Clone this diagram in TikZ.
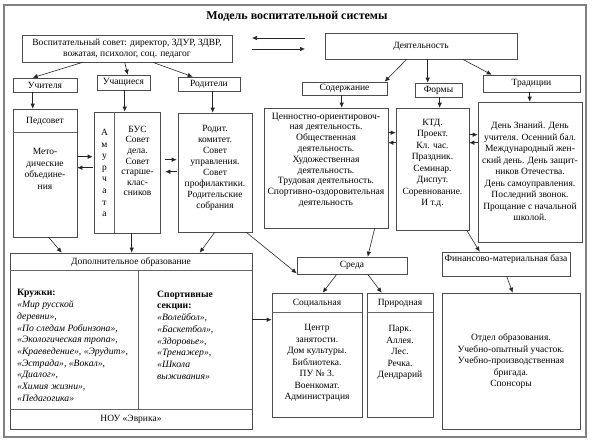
\documentclass[tikz,border=0pt]{standalone}
\usepackage{fontspec}
\setmainfont{Liberation Serif}
\usetikzlibrary{arrows.meta,calc}
\begin{document}
\begin{tikzpicture}[x=1pt,y=-1pt,
  box/.style={draw=black!70, line width=0.6pt, inner sep=0pt},
  divider/.style={draw=black!60, line width=0.6pt},
  frame/.style={draw=black!50, line width=1.3pt},
  arr/.style={draw=black!85, line width=0.6pt, -{Latex[length=5pt,width=4.5pt]}},
  tf/.style={font=\fontsize{9.5}{11.5}\selectfont, align=center, inner sep=0pt},
  tl/.style={font=\fontsize{9.7}{11.7}\selectfont, align=left, inner sep=0pt},
  title/.style={font=\fontsize{12}{14}\selectfont\bfseries, inner sep=0pt}
]
\useasboundingbox (0,0) rectangle (595,442);
\draw[frame] (4,5) rectangle (586,437);

\node[title] (ttl) at (297,16) {Модель воспитательной системы};

% exchange arrows
\coordinate (a1) at (305,38);
\coordinate (a2) at (252,38);
\coordinate (b1) at (252,49);
\coordinate (b2) at (305,49);
\draw[arr] (a1) -- (a2);
\draw[arr] (b1) -- (b2);

% top boxes
\node[box,tf,minimum width=210pt,minimum height=27pt] (vs) at (127,48.5) {Воспитательный совет: директор, ЗДУР, ЗДВР,\\вожатая, психолог, соц. педагог};
\node[box,tf,minimum width=192pt,minimum height=26pt] (deyat) at (421,46) {Деятельность};

\node[box,tf,minimum width=64pt,minimum height=14pt] (uch) at (45,85) {Учителя};
\node[box,tf,minimum width=53pt,minimum height=15pt] (uchsh) at (123.5,82.5) {Учащиеся};
\node[box,tf,minimum width=62pt,minimum height=14pt] (rod) at (209,84) {Родители};
\node[box,tf,minimum width=85pt,minimum height=13pt] (sod) at (344.5,88.5) {Содержание};
\node[box,tf,minimum width=47pt,minimum height=14pt] (form) at (438.5,90) {Формы};
\node[box,tf,minimum width=97pt,minimum height=17pt] (trad) at (531.5,83.5) {Традиции};

% second row boxes
\node[box,minimum width=64pt,minimum height=128pt] (ped) at (45,173) {};
\draw[divider] ($(ped.north west)+(0,24)$) -- ($(ped.north east)+(0,24)$);
\node[tf] (pedt) at (45,121) {Педсовет};
\node[tf] (metod) at (45,169) {Мето-\\дические\\объедине-\\ния};

\node[box,minimum width=66pt,minimum height=121pt] (uchbox) at (127,172.5) {};
\draw[divider] ($(uchbox.north west)+(21,0)$) -- ($(uchbox.south west)+(21,0)$);
\node[font=\fontsize{9.5}{11.6}\selectfont, align=center, inner sep=0pt] (amur) at (104.5,173) {А\\м\\у\\р\\ч\\а\\т\\а};
\node[font=\fontsize{9.5}{10.6}\selectfont, align=center, inner sep=0pt] (bus) at (137.5,161) {БУС\\Совет\\дела.\\Совет\\старше-\\клас-\\сников};

\node[box,minimum width=74pt,minimum height=119pt] (rodbox) at (215,172.5) {};
\node[font=\fontsize{9.5}{11}\selectfont, align=center, inner sep=0pt] (rodt) at (215,168) {Родит.\\комитет.\\Совет\\управления.\\Совет\\профилактики.\\Родительские\\собрания};

\node[box,minimum width=124pt,minimum height=120pt] (sodbox) at (326,168) {};
\node[font=\fontsize{9.6}{10.8}\selectfont, align=center, inner sep=0pt] (sodt) at (326,160) {Ценностно-ориентировоч-\\ная деятельность.\\Общественная\\деятельность.\\Художественная\\деятельность.\\Трудовая деятельность.\\Спортивно-оздоровительная\\деятельность};

\node[box,minimum width=73pt,minimum height=122pt] (formbox) at (432.5,169) {};
\node[tf] (formt) at (432.5,163.5) {КТД.\\Проект.\\Кл. час.\\Праздник.\\Семинар.\\Диспут.\\Соревнование.\\И т.д.};

\node[box,minimum width=104pt,minimum height=140pt] (tradbox) at (530,172) {};
\node[tf] (tradt) at (530,171.5) {День Знаний. День\\учителя. Осенний бал.\\Международный жен-\\ский день. День защит-\\ников Отечества.\\День самоуправления.\\Последний звонок.\\Прощание с начальной\\школой.};

% lower boxes
\node[box,minimum width=242pt,minimum height=176pt] (dop) at (131,341) {};
\draw[divider] ($(dop.north west)+(0,18)$) -- ($(dop.north east)+(0,18)$);
\draw[divider] ($(dop.south west)+(0,-20)$) -- ($(dop.south east)+(0,-20)$);
\draw[divider] ($(dop.north west)+(129,18)$) -- ($(dop.south west)+(129,-20)$);
\node[tf] (dopt) at (131,262) {Дополнительное образование};
\node[tf] (nou) at (131,419) {НОУ «Эврика»};
\node[tl, anchor=west] (kruzh) at (17,345.5) {\textbf{Кружки:}\\\textit{«Мир русской}\\\textit{деревни»,}\\\textit{«По следам Робинзона»,}\\\textit{«Экологическая тропа»,}\\\textit{«Краеведение», «Эрудит»,}\\\textit{«Эстрада», «Вокал»,}\\\textit{«Диалог»,}\\\textit{«Химия жизни»,}\\\textit{«Педагогика»}};
\node[tl, anchor=west] (sport) at (157,335) {\textbf{Спортивные}\\\textbf{секции:}\\\textit{«Волейбол»,}\\\textit{«Баскетбол»,}\\\textit{«Здоровье»,}\\\textit{«Тренажер»,}\\\textit{«Школа}\\\textit{выживания»}};

\node[box,tf,minimum width=110pt,minimum height=17pt] (sreda) at (352,265.5) {Среда};
\node[box,minimum width=128pt,minimum height=24pt] (fin) at (506,264) {};
\node[tf] (fint) at (506,259) {Финансово-материальная база};

\node[box,minimum width=90pt,minimum height=124pt] (soc) at (317,355) {};
\draw[divider] ($(soc.north west)+(0,20)$) -- ($(soc.north east)+(0,20)$);
\node[tf] (soch) at (317,303) {Социальная};
\node[tf] (soct) at (317,363) {Центр\\занятости.\\Дом культуры.\\Библиотека.\\ПУ № 3.\\Военкомат.\\Администрация};

\node[box,minimum width=66pt,minimum height=124pt] (prir) at (400,355) {};
\draw[divider] ($(prir.north west)+(0,20)$) -- ($(prir.north east)+(0,20)$);
\node[tf] (prirh) at (400,303) {Природная};
\node[tf] (prirt) at (400,352.5) {Парк.\\Аллея.\\Лес.\\Речка.\\Дендрарий};

\node[box,minimum width=138pt,minimum height=136pt] (finbox) at (511,361) {};
\node[tf] (fintx) at (511,361.5) {Отдел образования.\\Учебно-опытный участок.\\Учебно-производственная\\бригада.\\Спонсоры};

% connectors
\draw[arr] ($(vs.south west)+(61,0)$) -- ($(uch.north west)+(20,0)$);
\draw[arr] ($(vs.south west)+(103,0)$) -- ($(uchsh.north west)+(31,0)$);
\draw[arr] ($(vs.south west)+(131,0)$) -- ($(rod.north west)+(15,0)$);
\draw[arr] ($(deyat.south west)+(82,0)$) -- ($(sod.north west)+(83,0)$);
\draw[arr] ($(deyat.south west)+(103,0)$) -- ($(form.north west)+(13,0)$);
\draw[arr] ($(deyat.south west)+(138,0)$) -- ($(trad.north west)+(9,0)$);

\draw[arr] ($(uch.south west)+(20,0)$) -- ($(ped.north west)+(20,0)$);
\draw[arr] ($(uchsh.south west)+(28,0)$) -- ($(uchbox.north west)+(31,0)$);
\draw[arr] ($(rod.south west)+(35,0)$) -- ($(rodbox.north west)+(35,0)$);
\draw[arr] ($(sod.south west)+(40,0)$) -- ($(sodbox.north west)+(78,0)$);
\draw[arr] ($(form.south west)+(25,0)$) -- ($(formbox.north west)+(44,0)$);
\draw[arr] ($(trad.south west)+(47,0)$) -- ($(tradbox.north west)+(52,0)$);

\draw[arr] ($(ped.north east)+(0,48)$) -- ($(uchbox.north west)+(-1,45)$);
\draw[arr] ($(uchbox.north west)+(-1,56)$) -- ($(ped.north east)+(0,59)$);
\draw[arr] ($(uchbox.north east)+(5,48)$) -- ($(rodbox.north west)+(-1,47)$);
\draw[arr] ($(rodbox.north west)+(-1,59)$) -- ($(uchbox.north east)+(5,60)$);
\draw[arr] ($(sodbox.north east)+(0,25)$) -- ($(formbox.north west)+(0,25)$);
\draw[arr] ($(formbox.north west)+(0,35)$) -- ($(sodbox.north east)+(0,35)$);
\draw[arr] ($(formbox.north east)+(0,27)$) -- ($(tradbox.north west)+(0,33)$);
\draw[arr] ($(tradbox.north west)+(0,41)$) -- ($(formbox.north east)+(0,35)$);

\draw[arr] ($(ped.south west)+(36,0)$) -- ($(dop.north west)+(52,0)$);
\draw[arr] ($(uchbox.south west)+(38,0)$) -- ($(dop.north west)+(122,0)$);
\draw[arr] ($(rodbox.south west)+(37,0)$) -- ($(dop.north west)+(190,0)$);
\draw[arr] ($(rodbox.south east)+(-6,0)$) -- ($(sreda.south west)+(0,-1)$);
\draw[arr] ($(sodbox.south west)+(111,0)$) -- ($(sreda.north west)+(71,0)$);
\draw[arr] ($(formbox.south west)+(71,0)$) -- ($(fin.north west)+(38,0)$);
\draw[arr] ($(sreda.south west)+(40,0)$) -- ($(soc.north west)+(51,0)$);
\draw[arr] ($(sreda.south west)+(71,0)$) -- ($(prir.north west)+(15,0)$);
\draw[arr] ($(fin.south west)+(65,0)$) -- ($(finbox.north west)+(71,0)$);
\draw[arr] ($(dop.north east)+(0,67)$) -- ($(soc.north west)+(0,27)$);
\end{tikzpicture}
\end{document}
